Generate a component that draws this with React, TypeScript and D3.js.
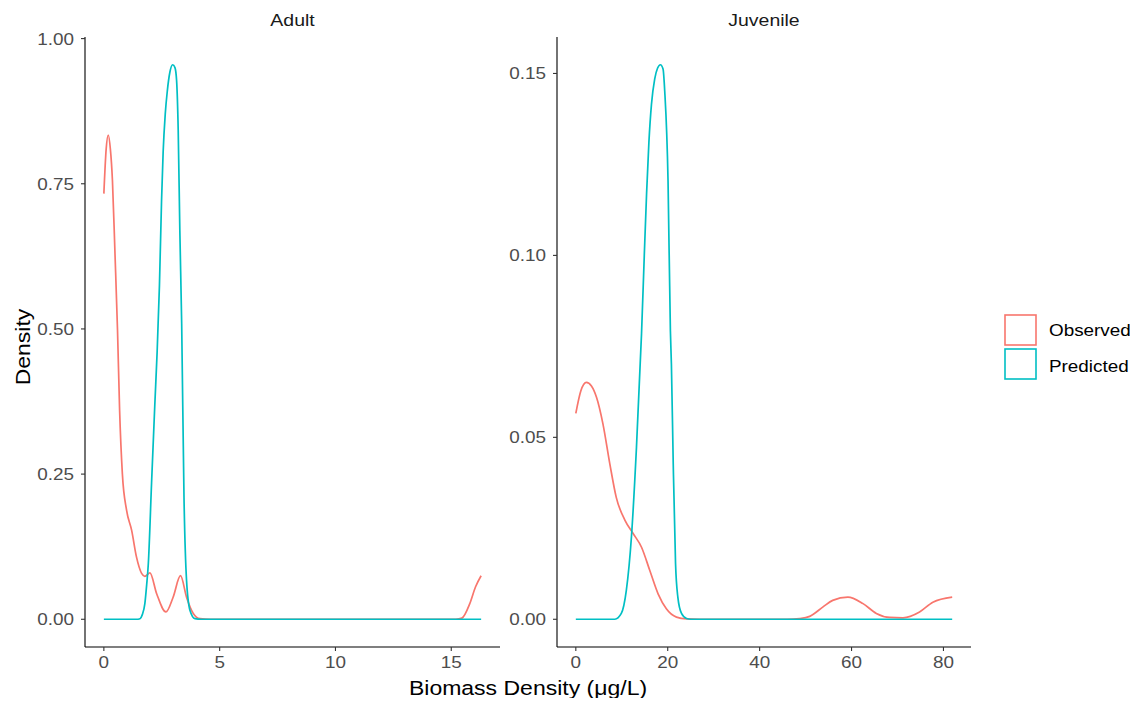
import React from "react";
import * as d3 from "d3";

// density estimates, [biomass, density]
const adultObserved: [number, number][] = [
  [0, 0.733], [0.1, 0.81], [0.19, 0.834], [0.28, 0.81], [0.37, 0.756], [0.48, 0.63], [0.59, 0.497],
  [0.68, 0.36], [0.8, 0.25], [0.98, 0.188], [1.2, 0.153], [1.41, 0.107], [1.63, 0.079], [1.77, 0.074],
  [1.99, 0.08], [2.28, 0.044], [2.68, 0.0126], [2.99, 0.038], [3.31, 0.075], [3.57, 0.038],
  [3.86, 0.01], [4.15, 0.001], [4.6, 0], [15.2, 0], [15.46, 0.002], [15.8, 0.027],
  [16.05, 0.056], [16.29, 0.075],
];
const adultPredicted: [number, number][] = [
  [0, 0], [1.4, 0], [1.56, 0.001], [1.66, 0.008], [1.77, 0.027], [1.85, 0.06], [1.92, 0.096],
  [2.06, 0.235], [2.2, 0.37], [2.3, 0.46], [2.4, 0.575], [2.49, 0.72],
  [2.56, 0.805], [2.65, 0.87], [2.74, 0.91], [2.85, 0.942], [2.97, 0.955], [3.07, 0.95],
  [3.14, 0.928], [3.21, 0.842], [3.28, 0.67], [3.36, 0.509], [3.46, 0.21], [3.57, 0.067],
  [3.72, 0.015], [3.93, 0.001], [4.2, 0], [16.29, 0],
];
const juvenileObserved: [number, number][] = [
  [0, 0.0566], [1.1, 0.0628], [2.3, 0.0651], [3.4, 0.0641], [4.5, 0.061], [5.9, 0.0537],
  [7.4, 0.0427], [8.8, 0.0335], [10.7, 0.0272], [12.5, 0.0235], [14.3, 0.0198], [16.1, 0.0134],
  [17.9, 0.007], [19.7, 0.0029], [21.9, 0.0006], [24.1, 0.0001], [27, 0], [46, 0],
  [48.7, 0.0002], [50.9, 0.0008], [53.8, 0.0034], [55.9, 0.0052], [59.2, 0.0061],
  [62.5, 0.0043], [65.4, 0.0016], [68.3, 0.0005], [71.2, 0.0004], [74.8, 0.002],
  [77.7, 0.0047], [81.9, 0.0061],
];
const juvenilePredicted: [number, number][] = [
  [0, 0], [8.5, 0], [9.9, 0.0016], [11, 0.008], [12.1, 0.0226], [13.2, 0.0473], [14.3, 0.0785],
  [14.9, 0.1], [15.4, 0.117], [15.9, 0.131], [16.46, 0.1415], [17.17, 0.1485], [17.8, 0.1515], [18.41, 0.1524],
  [18.98, 0.1512], [19.35, 0.1451], [20.07, 0.1204], [20.58, 0.0793], [20.8, 0.0701],
  [21.2, 0.0427], [21.7, 0.0153], [22.2, 0.0061], [23, 0.0016], [24.1, 0.0002], [25, 0], [81.9, 0],
];

const panels = ["Adult", "Juvenile"];
const seriesNames = ["Observed", "Predicted"];
const seriesColors = ["#F8766D", "#00BFC4"];
const adultYTicks = [0, 0.25, 0.5, 0.75, 1.0];
const juvenileYTicks = [0, 0.05, 0.1, 0.15];
const adultXTicks = [0, 5, 10, 15];
const juvenileXTicks = [0, 20, 40, 60, 80];

const W = 1138, H = 706;
const top = 37, bottom = 647;
const panelX = [[85, 500], [557, 971]];
const font = "Liberation Sans, Arial, sans-serif";
const stretch = 1.18; // the reference text is drawn a little wide

function Txt({ x, y, rotate = 0, size, anchor = "start", fill = "#000", children }: any) {
  return (
    <text
      transform={`translate(${x},${y}) rotate(${rotate}) scale(${stretch},1)`}
      textAnchor={anchor}
      fontSize={size}
      fill={fill}
      fontFamily={font}
    >
      {children}
    </text>
  );
}

function Panel({ idx, series, yTicks, xTicks, yFmt }: any) {
  const [x0, x1] = panelX[idx];
  const all = series.flat();
  const xmax = d3.max(all, (d: any) => d[0]) as number;
  const ymax = d3.max(all, (d: any) => d[1]) as number;
  const x = d3.scaleLinear().domain([-0.05 * xmax, 1.05 * xmax]).range([x0, x1]);
  const y = d3.scaleLinear().domain([-0.05 * ymax, 1.05 * ymax]).range([bottom, top]);
  const line = d3
    .line<[number, number]>()
    .x((d) => x(d[0]))
    .y((d) => y(d[1]))
    .curve(d3.curveMonotoneX);
  return (
    <g>
      <Txt x={(x0 + x1) / 2} y={26} size={16.5} anchor="middle" fill="#1A1A1A">
        {panels[idx]}
      </Txt>
      {series.map((s: any, i: number) => (
        <path key={i} d={line(s) || ""} fill="none" stroke={seriesColors[i]} strokeWidth={1.7} />
      ))}
      <line x1={x0} x2={x0} y1={top} y2={bottom} stroke="#000" strokeWidth={1.1} />
      <line x1={x0} x2={x1} y1={bottom} y2={bottom} stroke="#000" strokeWidth={1.1} />
      {yTicks.map((t: number) => (
        <g key={t}>
          <line x1={x0 - 4} x2={x0} y1={y(t)} y2={y(t)} stroke="#333" strokeWidth={1.1} />
          <Txt x={x0 - 11} y={y(t) + 6} size={16} anchor="end" fill="#4D4D4D">
            {yFmt(t)}
          </Txt>
        </g>
      ))}
      {xTicks.map((t: number) => (
        <g key={t}>
          <line x1={x(t)} x2={x(t)} y1={bottom} y2={bottom + 4} stroke="#333" strokeWidth={1.1} />
          <Txt x={x(t)} y={bottom + 21} size={16} anchor="middle" fill="#4D4D4D">
            {t}
          </Txt>
        </g>
      ))}
    </g>
  );
}

export default function App() {
  const f2 = d3.format(".2f");
  return (
    <svg width={W} height={H} style={{ display: "block", margin: -8 }}>
      <rect width={W} height={H} fill="#fff" />
      <Panel idx={0} series={[adultObserved, adultPredicted]} yTicks={adultYTicks} xTicks={adultXTicks} yFmt={f2} />
      <Panel idx={1} series={[juvenileObserved, juvenilePredicted]} yTicks={juvenileYTicks} xTicks={juvenileXTicks} yFmt={f2} />
      <Txt x={30} y={347} rotate={-90} size={19.5} anchor="middle">
        Density
      </Txt>
      <Txt x={528} y={695} size={19.5} anchor="middle">
        Biomass Density (μg/L)
      </Txt>
      {seriesNames.map((n, i) => (
        <g key={n}>
          <rect x={1005} y={315 + i * 34} width={31} height={30} fill="#fff" stroke={seriesColors[i]} strokeWidth={1.6} />
          <Txt x={1049} y={336 + i * 35.5} size={16}>
            {n}
          </Txt>
        </g>
      ))}
    </svg>
  );
}
